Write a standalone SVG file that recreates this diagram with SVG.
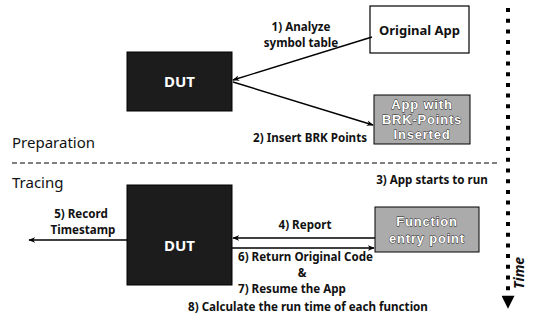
<svg xmlns="http://www.w3.org/2000/svg" width="540" height="324" viewBox="0 0 540 324">
<defs>
<marker id="ah" viewBox="0 0 10 10" refX="9" refY="5" markerWidth="7" markerHeight="7" orient="auto" markerUnits="userSpaceOnUse">
<path d="M0,1 L10,5 L0,9 L3,5 Z" fill="#000"/>
</marker>
<marker id="big" viewBox="0 0 10 10" refX="1" refY="5" markerWidth="14" markerHeight="13" orient="auto" markerUnits="userSpaceOnUse">
<path d="M0,0 L10,5 L0,10 Z" fill="#000"/>
</marker>
</defs>
<style>
text{font-family:"Noto Sans","Open Sans","Liberation Sans",sans-serif;font-weight:bold;fill:#111}
.lbl{font-size:11.6px}
.sec{font-size:15px;font-weight:normal}
.dut{fill:#1c1c1c;stroke:#000;stroke-width:1}
.dutt{font-size:15px;fill:#fff}
.gray{fill:#ababab;stroke:#000;stroke-width:1}
.gt{font-family:"Liberation Sans","Arial",sans-serif;font-size:13px;letter-spacing:0.8px;fill:#fff;stroke:#222;stroke-width:0.8;paint-order:stroke}
.conn line{stroke:#000;stroke-width:1.4}
</style>
<rect width="540" height="324" fill="#fff"/>

<g id="dut-top"><rect class="dut" x="127" y="52" width="105" height="59"/><text class="dutt" x="179.5" y="87" text-anchor="middle">DUT</text></g>
<g id="original-app"><rect x="370" y="6" width="99" height="47" fill="#fff" stroke="#000" stroke-width="1.2"/><text x="419.5" y="35" font-size="13" text-anchor="middle">Original App</text></g>
<g id="app-brk"><rect class="gray" x="374" y="95" width="96" height="49"/>
<text class="gt" x="422" y="109" text-anchor="middle">App with</text>
<text class="gt" x="422" y="124" text-anchor="middle">BRK-Points</text>
<text class="gt" x="422" y="139" text-anchor="middle">Inserted</text></g>

<g id="dut-bottom"><rect class="dut" x="127" y="185" width="105" height="100"/><text class="dutt" x="179.5" y="251" text-anchor="middle">DUT</text></g>
<g id="function-entry"><rect class="gray" x="375" y="207" width="104" height="45"/>
<text class="gt" x="427" y="226" text-anchor="middle" font-size="14">Function</text>
<text class="gt" x="427" y="243" text-anchor="middle" font-size="14">entry point</text></g>

<g id="labels">
<text class="sec" x="12" y="148">Preparation</text>
<text class="sec" x="12" y="188">Tracing</text>
<text class="lbl" x="301" y="31" text-anchor="middle">1) Analyze</text>
<text class="lbl" x="301" y="47" text-anchor="middle">symbol table</text>
<text class="lbl" x="367" y="142" text-anchor="end">2) Insert BRK Points</text>
<text class="lbl" x="432" y="184" text-anchor="middle">3) App starts to run</text>
<text class="lbl" x="305" y="229" text-anchor="middle">4) Report</text>
<text class="lbl" x="81" y="218" text-anchor="middle">5) Record</text>
<text class="lbl" x="83" y="234" text-anchor="middle">Timestamp</text>
<text class="lbl" x="238" y="261">6) Return Original Code</text>
<text class="lbl" x="302" y="277" text-anchor="middle">&amp;</text>
<text class="lbl" x="238" y="293">7) Resume the App</text>
<text class="lbl" x="308" y="311" text-anchor="middle" font-size="12">8) Calculate the run time of each function</text>
<text x="0" y="0" font-size="14" font-style="italic" transform="translate(524,289) rotate(-90)">Time</text>
</g>

<g id="connectors" class="conn">
<line x1="372" y1="37" x2="233" y2="80" marker-end="url(#ah)"/>
<line x1="233" y1="82" x2="373" y2="125" marker-end="url(#ah)"/>
<line x1="375" y1="238" x2="233" y2="238" marker-end="url(#ah)"/>
<line x1="232" y1="248" x2="374" y2="248" marker-end="url(#ah)"/>
<line x1="127" y1="240" x2="29" y2="240" marker-end="url(#ah)"/>
<line x1="12" y1="163" x2="497" y2="163" stroke-dasharray="5,3" style="stroke-width:1.2"/>
<line x1="508" y1="8" x2="508" y2="297" stroke-dasharray="4,6.7" marker-end="url(#big)" style="stroke-width:4"/>
</g>
</svg>
